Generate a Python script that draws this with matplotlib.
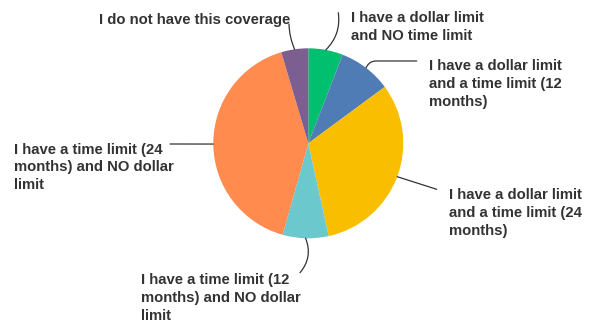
import numpy as np
import matplotlib
matplotlib.use("Agg")
import matplotlib.pyplot as plt

# coverage answers, clockwise from 12 o'clock (percent of respondents)
labels = [
    "I have a dollar limit\nand NO time limit",
    "I have a dollar limit\nand a time limit (12\nmonths)",
    "I have a dollar limit\nand a time limit (24\nmonths)",
    "I have a time limit (12\nmonths) and NO dollar\nlimit",
    "I have a time limit (24\nmonths) and NO dollar\nlimit",
    "I do not have this coverage",
]
shares = [5.9, 9.0, 31.7, 7.8, 41.1, 4.6]
colors = ["#00BF6F", "#507CB6", "#F9BE00", "#6BC8CD", "#FF8B4F", "#7D5E90"]

W, H = 589, 326
plt.rcParams['font.family'] = ['Liberation Sans', 'DejaVu Sans']

fig = plt.figure(figsize=(W / 100, H / 100), dpi=100)
ax = fig.add_axes([0, 0, 1, 1])

cx, cy, R = 308.3, H - 143.3, 95
wedges, _ = ax.pie(shares, colors=colors, startangle=90, counterclock=False,
                   center=(cx, cy), radius=R, frame=True,
                   wedgeprops=dict(linewidth=0))
ax.set_xlim(0, W)
ax.set_ylim(0, H)
ax.axis('off')

# label placement (pixel coords from top-left) and leader line setup
text_pos = [(350.7, 11.5), (429.3, 59.3), (449.3, 188.3), (140.7, 273.3), (14, 142.7), (99, 12.7)]
line_start = [(338.3, 12.7), (416.7, 61), (436.7, 189.3), (300, 272.7), (170, 144), (289, 24)]
conn = ["arc3,rad=-0.25", "angle,angleA=180,angleB=60,rad=6", "arc3,rad=0",
        "arc3,rad=0.3", "arc3,rad=0", "arc3,rad=0.1"]

for w, lab, tp, ls, cs in zip(wedges, labels, text_pos, line_start, conn):
    mid = np.deg2rad((w.theta1 + w.theta2) / 2)
    px, py = cx + R * np.cos(mid), cy + R * np.sin(mid)
    ax.annotate("", xy=(px, py), xytext=(ls[0], H - ls[1]),
                arrowprops=dict(arrowstyle='-', color='#333333', lw=0.9,
                                shrinkA=0, shrinkB=0, connectionstyle=cs))
    ax.text(tp[0], H - tp[1], lab, ha='left', va='top', fontsize=10.7,
            fontweight='bold', color='#333333', linespacing=1.33)

fig.savefig('out.png', dpi=100)
